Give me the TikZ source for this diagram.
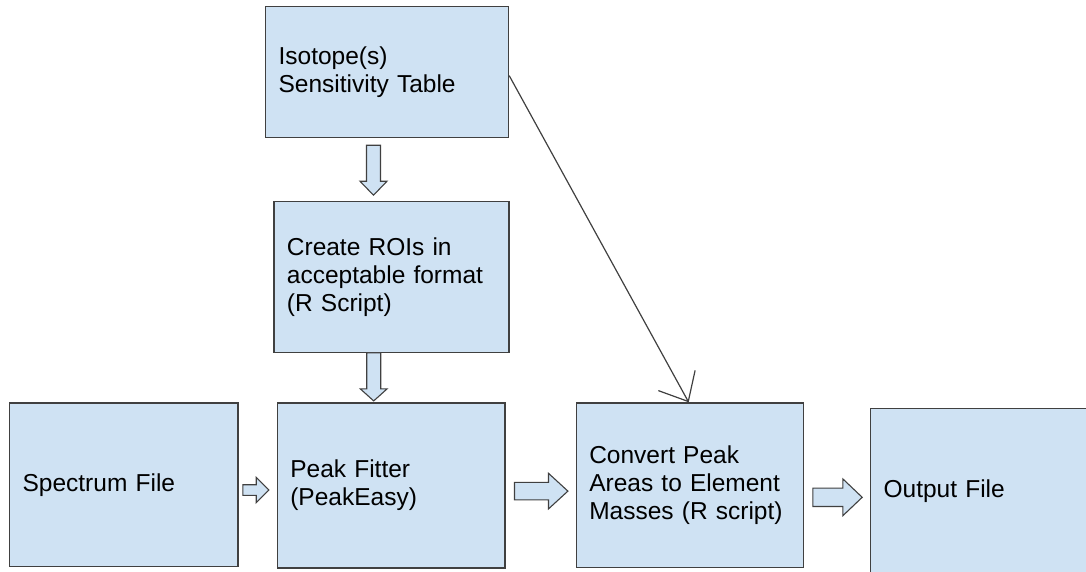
\documentclass[tikz,border=0pt]{standalone}
\usepackage{fontspec}
\setmainfont{Liberation Sans}
\usetikzlibrary{arrows.meta,calc}
\definecolor{boxfill}{HTML}{CFE2F3}
\definecolor{boxline}{HTML}{404040}

% hollow block arrow: rotation, tail point, length, shaft half width,
% head half width, head length
\newcommand\blockarrow[6]{%
  \begin{scope}[shift={#2}, rotate=#1]
    \draw[flowarrow] (0,-#4) -- (#3-#6,-#4) -- (#3-#6,-#5) -- (#3,0)
      -- (#3-#6,#5) -- (#3-#6,#4) -- (0,#4) -- cycle;
  \end{scope}}

\begin{document}
\begin{tikzpicture}[x=1pt,y=-1pt,
  stagebox/.style={rectangle, draw=boxline, fill=boxfill, line width=1.2pt,
    inner xsep=13pt, inner ysep=0pt, align=left, anchor=north west,
    font=\fontsize{24.5}{28}\selectfont},
  flowarrow/.style={draw=boxline, fill=boxfill, line width=1.1pt, line join=miter},
  thinlink/.style={draw=boxline, line width=1.2pt,
    -{Straight Barb[length=24pt,width=42pt,line width=1.2pt]}}]
\useasboundingbox (0,0) rectangle (1086,571);
\clip (0,0) rectangle (1086,571);

% processing stages
\node[stagebox, text width=217pt, minimum height=131pt] (iso) at (265,6)
  {Isotope(s)\\Sensitivity Table};
\node[stagebox, text width=209pt, minimum height=150.7pt] (roi) at (273.3,201)
  {Create ROIs in\\acceptable format\\(R Script)};
\node[stagebox, text width=202.3pt, minimum height=163.7pt] (spec) at (9,402.3)
  {Spectrum File};
\node[stagebox, text width=201.6pt, minimum height=165pt] (peak) at (276.7,402.3)
  {Peak Fitter\\(PeakEasy)};
\node[stagebox, text width=201pt, minimum height=164.4pt] (conv) at (575.7,402.3)
  {Convert Peak\\Areas to Element\\Masses (R script)};
\node[stagebox, text width=201pt, minimum height=166.6pt] (out) at (870,407.7)
  {Output File};

% tails of the block arrows between stages
\coordinate (t1) at ($(iso.south west)+(108.5,7)$);
\coordinate (t2) at ($(roi.south west)+(100.4,0)$);
\coordinate (t3) at ($(spec.east)+(4.4,5.3)$);
\coordinate (t4) at ($(peak.east)+(9,5.7)$);
\coordinate (t5) at ($(conv.east)+(9,12.2)$);

\blockarrow{-90}{(t1)}{50}{7}{13.5}{14}
\blockarrow{-90}{(t2)}{48}{7}{13.35}{12}
\blockarrow{0}{(t3)}{26}{5.3}{12.7}{12.7}
\blockarrow{0}{(t4)}{53.4}{8.8}{17.8}{19.4}
\blockarrow{0}{(t5)}{49.3}{9.2}{18.35}{19.3}

% sensitivity table feeds the conversion step directly
\draw[thinlink] ($(iso.east)+(0,3.5)$) -- ($(conv.north west)+(113,0)$);
\end{tikzpicture}
\end{document}
